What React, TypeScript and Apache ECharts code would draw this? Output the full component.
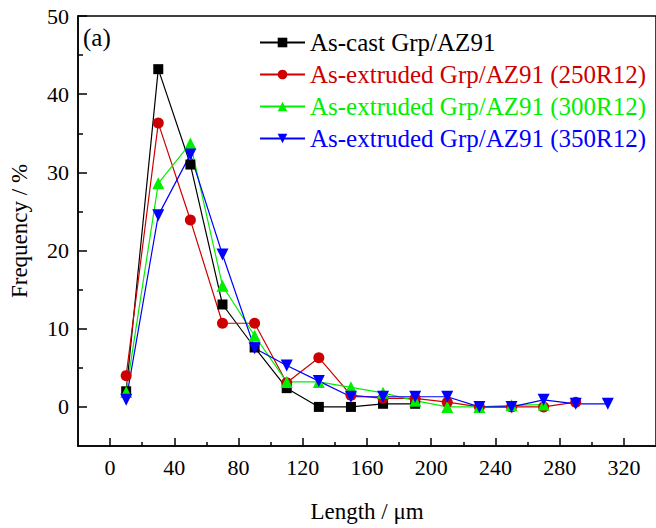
import React, { useEffect, useRef } from "react";
import * as echarts from "echarts";

const lengths = [10, 30, 50, 70, 90, 110, 130, 150, 170, 190, 210, 230, 250, 270, 290, 310];
const asCast = [2.0, 43.2, 31.0, 13.1, 7.6, 2.4, 0, 0, 0.4, 0.4];
const ext250 = [4.0, 36.3, 23.9, 10.7, 10.7, 3.1, 6.3, 1.5, 1.1, 1.1, 0.6, 0, 0, 0, 0.6];
const ext300 = [1.9, 28.6, 33.7, 15.5, 9.1, 3.2, 3.2, 2.5, 1.8, 0.8, 0, 0, 0.2, 0.3];
const ext350 = [0.9, 24.5, 32.3, 19.5, 7.5, 5.3, 3.3, 1.3, 1.3, 1.3, 1.3, 0, 0, 0.9, 0.4, 0.4];
const seriesNames = [
  "As-cast Grp/AZ91",
  "As-extruded Grp/AZ91 (250R12)",
  "As-extruded Grp/AZ91 (300R12)",
  "As-extruded Grp/AZ91 (350R12)",
];
const xMajor = [0, 40, 80, 120, 160, 200, 240, 280, 320];
const xMinor = [20, 60, 100, 140, 180, 220, 260, 300];
const yMajor = [0, 10, 20, 30, 40, 50];
const yMinor = [5, 15, 25, 35, 45];

const FONT = "Liberation Serif";
const colors = ["#000000", "#cc0000", "#00ee00", "#0000ff"];
const symbols = ["rect", "circle", "triangle", "triangle"];
const symbolSizes = [10, 11, 12, 12];
const rotates = [0, 0, 0, 180];

export default function App() {
  const ref = useRef<HTMLDivElement>(null);
  useEffect(() => {
    const chart = echarts.init(ref.current!, undefined, { renderer: "svg" });
    const allData = [asCast, ext250, ext300, ext350];
    const baseX = {
      type: "value",
      min: -20,
      max: 340,
      position: "bottom",
      splitLine: { show: false },
    };
    const baseY = {
      type: "value",
      min: -5,
      max: 50,
      position: "left",
      splitLine: { show: false },
    };
    chart.setOption({
      animation: false,
      backgroundColor: "#ffffff",
      textStyle: { fontFamily: FONT },
      grid: {
        left: 77,
        top: 16,
        width: 581,
        height: 431,
        show: true,
        borderColor: "#000",
        borderWidth: 1.5,
        backgroundColor: "transparent",
      },
      xAxis: [
        {
          ...baseX,
          name: "Length / μm",
          nameLocation: "middle",
          nameGap: 54,
          nameTextStyle: { fontFamily: FONT, fontSize: 23, color: "#000" },
          axisLine: { show: true, onZero: false, lineStyle: { color: "#000", width: 1.5 } },
          axisTick: { show: true, inside: true, length: 8, customValues: xMajor, lineStyle: { color: "#000", width: 1.5 } },
          axisLabel: { customValues: xMajor, margin: 10, fontFamily: FONT, fontSize: 22, color: "#000" },
        },
        {
          ...baseX,
          axisLine: { show: false, onZero: false },
          axisTick: { show: true, inside: true, length: 4, customValues: xMinor, lineStyle: { color: "#000", width: 1.5 } },
          axisLabel: { show: false },
        },
      ],
      yAxis: [
        {
          ...baseY,
          name: "Frequency / %",
          nameLocation: "middle",
          nameGap: 47,
          nameTextStyle: { fontFamily: FONT, fontSize: 23, color: "#000" },
          axisLine: { show: true, onZero: false, lineStyle: { color: "#000", width: 1.5 } },
          axisTick: { show: true, inside: true, length: 9, customValues: yMajor, lineStyle: { color: "#000", width: 1.5 } },
          axisLabel: { customValues: yMajor, margin: 9, fontFamily: FONT, fontSize: 22, color: "#000" },
        },
        {
          ...baseY,
          axisLine: { show: false, onZero: false },
          axisTick: { show: true, inside: true, length: 5, customValues: yMinor, lineStyle: { color: "#000", width: 1.5 } },
          axisLabel: { show: false },
        },
      ],
      legend: {
        orient: "vertical",
        left: 254,
        top: 25,
        itemWidth: 45,
        itemHeight: 12,
        itemGap: 7,
        data: seriesNames.map((n, i) => ({ name: n, textStyle: { color: colors[i] } })),
        textStyle: { fontFamily: FONT, fontSize: 25 },
      },
      graphic: [
        {
          type: "text",
          left: 83,
          top: 25,
          style: { text: "(a)", font: `25px ${FONT}`, fill: "#000" },
        },
      ],
      series: allData.map((d, i) => ({
        name: seriesNames[i],
        type: "line",
        xAxisIndex: 0,
        yAxisIndex: 0,
        data: d.map((v, j) => [lengths[j], v]),
        symbol: symbols[i],
        symbolSize: symbolSizes[i],
        symbolRotate: rotates[i],
        showAllSymbol: true,
        color: colors[i],
        lineStyle: { color: colors[i], width: 1.2 },
        itemStyle: { color: colors[i] },
      })),
    });
    return () => chart.dispose();
  }, []);
  return <div ref={ref} style={{ width: 656, height: 528, position: "absolute", left: 0, top: 0 }} />;
}
